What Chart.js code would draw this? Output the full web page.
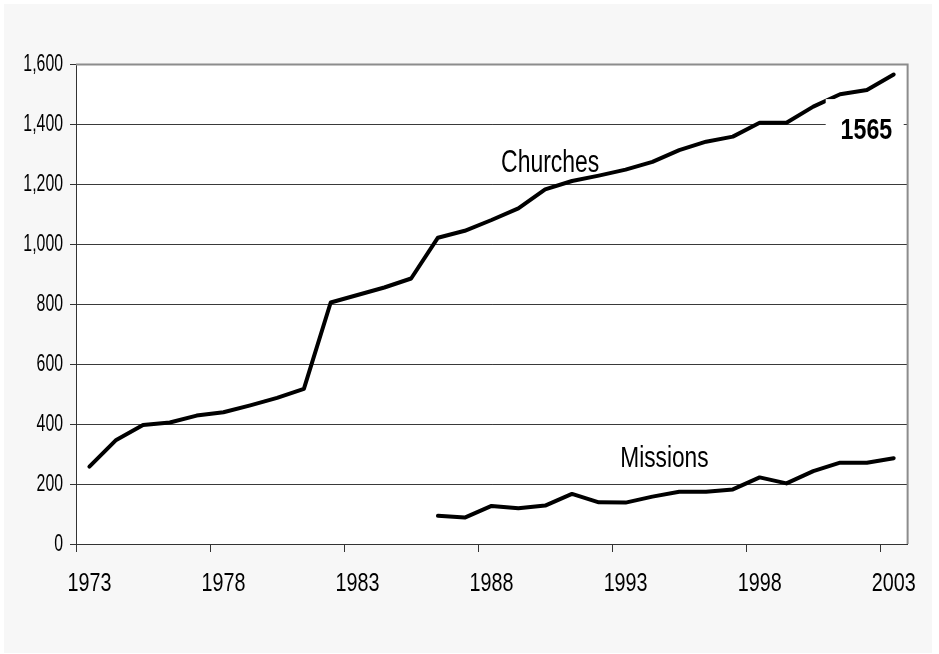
<!DOCTYPE html>
<html><head><meta charset="utf-8">
<script src="https://cdn.jsdelivr.net/npm/chart.js@4/dist/chart.umd.min.js"></script>
<style>html,body{margin:0;padding:0;background:#fff;}#wrap{width:939px;height:654px;}</style>
</head><body><div id="wrap"><canvas id="c" width="939" height="654"></canvas></div>
<script>
const years = ['1973','1974','1975','1976','1977','1978','1979','1980','1981','1982','1983','1984','1985','1986','1987','1988','1989','1990','1991','1992','1993','1994','1995','1996','1997','1998','1999','2000','2001','2002','2003'];
const churches = [258,347,397,405,428,439,462,487,517,805,830,855,885,1021,1044,1080,1119,1182,1210,1228,1248,1274,1313,1341,1358,1404,1404,1458,1499,1513,1565];
const missions = [null,null,null,null,null,null,null,null,null,null,null,null,null,94,88,127,119,128,167,139,138,158,174,174,182,222,202,243,271,271,286];
const yTickValues = [0,200,400,600,800,1000,1200,1400,1600];
const seriesNames = ['Churches','Missions'];
const lastValueLabel = '1565';

const F = "'Liberation Sans',Arial,sans-serif";

const canvas = document.getElementById('c');
const ctx2d = canvas.getContext('2d');
// horizontal condensing of text (reference uses a condensed rendering)
const nativeFill = ctx2d.fillText.bind(ctx2d);
let squeeze = 0;
ctx2d.fillText = function(t, x, y, mw){
  if (squeeze > 0 && mw === undefined) {
    const w = this.measureText(t).width;
    if (w > 0) return nativeFill(t, x, y, w * squeeze);
  }
  return mw === undefined ? nativeFill(t, x, y) : nativeFill(t, x, y, mw);
};
function condensedText(ctx, text, x, y, font, align, k){
  ctx.font = font;
  ctx.textAlign = align;
  const w = ctx.measureText(text).width;
  nativeFill(text, x, y, w * k);
}

const bgPlugin = {
  id:'bg',
  beforeDraw(chart){
    const ctx = chart.ctx, a = chart.chartArea;
    ctx.save();
    ctx.fillStyle = '#ffffff';
    ctx.fillRect(0,0,chart.width,chart.height);
    ctx.fillStyle = '#f7f7f7';
    ctx.fillRect(4,4,928,649);
    ctx.fillStyle = '#ffffff';
    ctx.fillRect(a.left,a.top,a.right-a.left,a.bottom-a.top);
    ctx.restore();
    squeeze = 0.79; // x tick labels
  },
  beforeDatasetsDraw(chart){
    const ctx = chart.ctx, a = chart.chartArea;
    squeeze = 0;
    ctx.save();
    ctx.strokeStyle = '#8c8c8c';
    ctx.lineWidth = 2;
    ctx.beginPath();
    ctx.moveTo(a.left, a.top+0.5);
    ctx.lineTo(a.right+0.5, a.top+0.5);
    ctx.lineTo(a.right+0.5, a.bottom);
    ctx.stroke();
    ctx.restore();
  },
  afterDatasetsDraw(chart){
    const ctx = chart.ctx, xs = chart.scales.x, ys = chart.scales.y;
    const n = years.length-1;
    const lx = xs.getPixelForValue(n);
    ctx.save();
    ctx.fillStyle = '#ffffff';
    const top = ys.getPixelForValue(1483), bot = ys.getPixelForValue(1313);
    ctx.fillRect(lx-68, top, 78, bot-top);
    ctx.fillStyle = '#000';
    ctx.textBaseline = 'alphabetic';
    condensedText(ctx, lastValueLabel, lx-1.5, ys.getPixelForValue(1349), 'bold 29px '+F, 'right', 0.80);
    condensedText(ctx, seriesNames[0], xs.getPixelForValue(17)+5, ys.getPixelForValue(1240), '31px '+F, 'center', 0.74);
    condensedText(ctx, seriesNames[1], xs.getPixelForValue(21)+12, ys.getPixelForValue(256), '30px '+F, 'center', 0.757);
    ctx.restore();
    squeeze = 0.66; // y tick labels (drawn after datasets)
  },
  afterDraw(chart){
    squeeze = 0;
  }
};

const lineDs = (label, data) => ({
  label, data, borderColor:'#000', borderWidth:4, pointRadius:0, pointHoverRadius:0,
  tension:0, fill:false, spanGaps:false, borderJoinStyle:'round', borderCapStyle:'round'
});

new Chart(ctx2d, {
  type:'line',
  data:{labels:years, datasets:[lineDs(seriesNames[0], churches), lineDs(seriesNames[1], missions)]},
  options:{
    responsive:false, animation:false, devicePixelRatio:1,
    layout:{padding:{left:0, top:64, right:30, bottom:0}},
    plugins:{legend:{display:false}, tooltip:{enabled:false}},
    scales:{
      x:{
        type:'category', offset:true,
        grid:{offset:true, drawOnChartArea:false, tickLength:8, lineWidth:1,
          tickColor:c => (c.index !== undefined && c.index % 5 === 0) ? '#333' : 'rgba(0,0,0,0)'},
        border:{color:'#333', width:1},
        ticks:{autoSkip:false, maxRotation:0, minRotation:0, padding:17, color:'#000',
          font:{family:F, size:25},
          callback:(v,i) => (i % 5 === 0) ? years[i] : ''},
        afterFit:s => { s.height = 110; }
      },
      y:{
        min:0, max:1600,
        afterBuildTicks:s => { s.ticks = yTickValues.map(v => ({value:v})); },
        grid:{color:c => (c.tick && c.tick.value === 1600) ? 'rgba(0,0,0,0)' : '#3a3a3a', tickColor:'#333', tickLength:6, lineWidth:1},
        border:{color:'#333', width:1},
        ticks:{z:1, padding:7, color:'#000', font:{family:F, size:24},
          callback:v => Number(v).toLocaleString('en-US')},
        afterFit:s => { s.width = 76; }
      }
    }
  },
  plugins:[bgPlugin]
});
</script></body></html>
